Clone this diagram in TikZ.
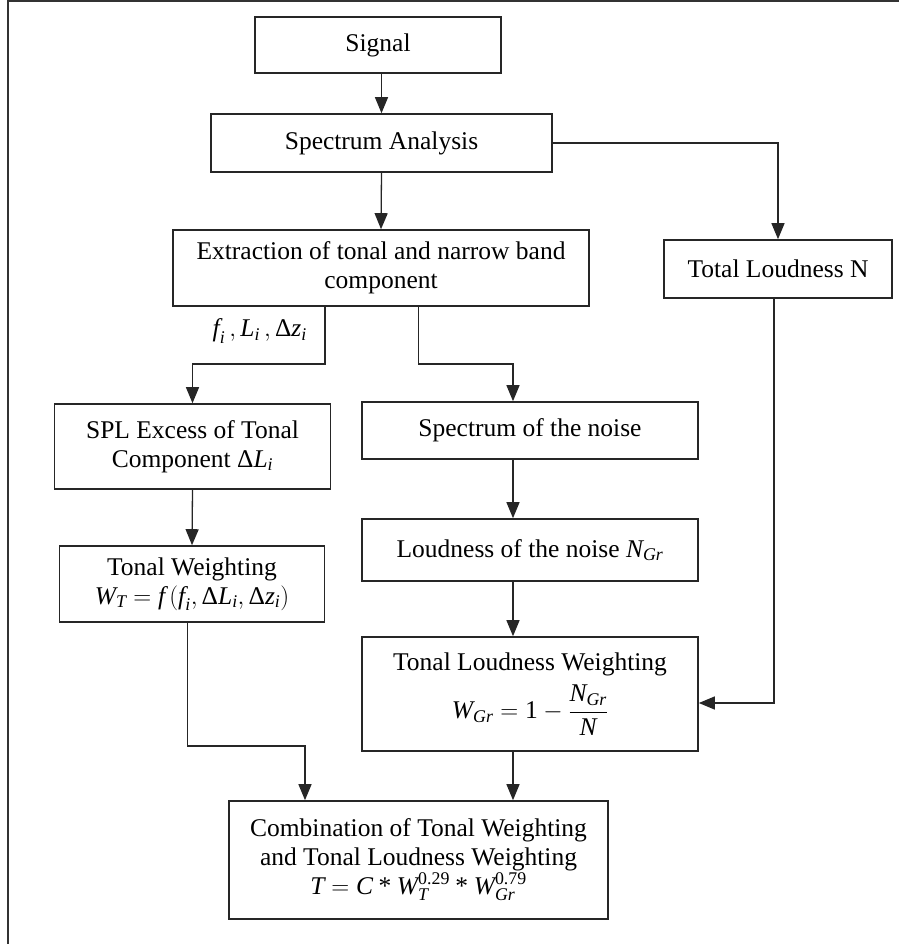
\documentclass[tikz,border=0pt]{standalone}
\usepackage{amsmath}
\usepackage{fontspec}
\setmainfont{Liberation Serif}
\usetikzlibrary{arrows.meta}
\newcommand\mv[1]{\textit{#1}}
\begin{document}
\begin{tikzpicture}[x=1pt,y=-1pt,
  box/.style={draw=black!85, line width=1.6pt, inner sep=0pt, align=center,
    font=\fontsize{25.5}{29}\selectfont},
  conn/.style={draw=black!85, line width=1.3pt, -{Triangle[length=16pt,width=13pt]}},
  lbl/.style={font=\fontsize{25.5}{29}\selectfont, inner sep=0pt}]
\useasboundingbox (0,0) rectangle (899,944);
\draw[line width=2pt, black!80] (8,944) -- (8,1) -- (899,1);

\node[box, minimum width=246pt, minimum height=56pt] (sig) at (378,45) {Signal};
\node[box, minimum width=341pt, minimum height=58pt] (spec) at (381.5,143) {Spectrum Analysis};
\node[box, minimum width=416pt, minimum height=76pt] (ext) at (381,268) {Extraction of tonal and narrow band\\component};
\node[box, minimum width=228pt, minimum height=58pt] (tot) at (778,269) {Total Loudness N};
\node[box, minimum width=276pt, minimum height=85pt] (spl) at (192.5,446.5) {SPL Excess of Tonal\\Component $\text{Δ}\mv{L}_{\mv{i}}$};
\node[box, minimum width=336pt, minimum height=57pt] (noise) at (530,430.5) {Spectrum of the noise};
\node[box, minimum width=336pt, minimum height=62pt] (lnoise) at (530,550) {Loudness of the noise $\mv{N}_{\mv{Gr}}$};
\node[box, minimum width=265pt, minimum height=76pt] (tw) at (192,584) {Tonal Weighting\\$\mv{W}_{\mv{T}} = \mv{f}\,(\mv{f}_{\mv{i}},\text{Δ}\mv{L}_{\mv{i}},\text{Δ}\mv{z}_{\mv{i}})$};
\node[box, minimum width=336pt, minimum height=114pt] (tlw) at (530,694) {Tonal Loudness Weighting\\[8pt]$\displaystyle \mv{W}_{\mv{Gr}} = \text{1}-\frac{\mv{N}_{\mv{Gr}}}{\mv{N}}$};
\node[box, minimum width=379pt, minimum height=118pt] (comb) at (418.5,860) {Combination of Tonal Weighting\\and Tonal Loudness Weighting\\$\mv{T} = \mv{C} \mathbin{\text{*}} \mv{W}_{\mv{T}}^{\text{0.29}} \mathbin{\text{*}} \mv{W}_{\mv{Gr}}^{\text{0.79}}$};

\node[lbl, anchor=east] (fl) at (307,331) {$\mv{f}_{\mv{i}}\,,\mv{L}_{\mv{i}}\,,\text{Δ}\mv{z}_{\mv{i}}$};

\coordinate (e1) at (325,306);
\coordinate (e2) at (418.6,306);
\coordinate (tw1) at (187.5,622);
\coordinate (tl1) at (774,298);

\draw[conn] (sig.south -| spec) -- (spec.north);
\draw[conn] (spec.south) -- (ext.north);
\draw[conn] (spec.east) -| (tot.north);
\draw[conn] (e1) -- (325,364) -| (spl.north);
\draw[conn] (e2) -- (418.6,364) -| (noise.north -| 513,0);
\draw[conn] (noise.south -| 513,0) -- (lnoise.north -| 513,0);
\draw[conn] (lnoise.south -| 513,0) -- (tlw.north -| 513,0);
\draw[conn] (spl.south) -- (tw.north);
\draw[conn] (tl1) |- (tlw.east |- 0,703);
\draw[conn] (tw1) -- (187.5,746) -| (comb.north -| 305,0);
\draw[conn] (tlw.south -| 513,0) -- (comb.north -| 513,0);
\end{tikzpicture}
\end{document}
